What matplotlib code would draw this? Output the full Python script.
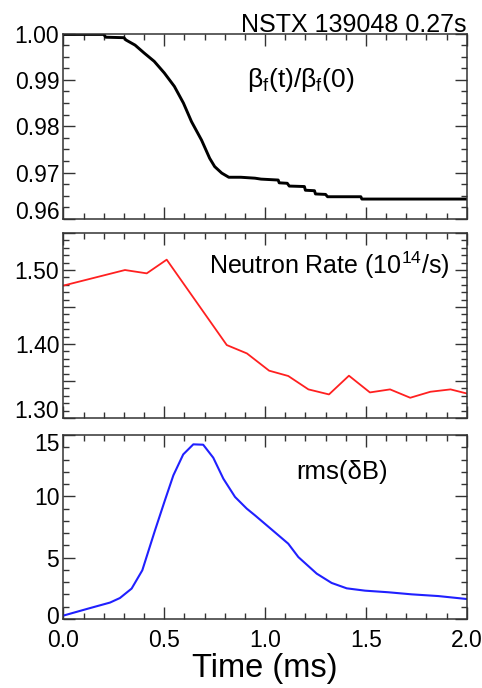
import matplotlib
matplotlib.use('Agg')
import matplotlib.pyplot as plt
from matplotlib.ticker import MultipleLocator, FuncFormatter
from matplotlib.transforms import ScaledTranslation

plt.rcParams['font.family'] = ['Liberation Sans', 'DejaVu Sans']
plt.rcParams['mathtext.fontset'] = 'custom'
plt.rcParams['mathtext.rm'] = 'Liberation Sans'
plt.rcParams['mathtext.it'] = 'Liberation Sans'

# beta_f(t)/beta_f(0)
beta_t = [0.0, 0.2, 0.21, 0.30, 0.31, 0.355, 0.40, 0.45, 0.50, 0.55, 0.595, 0.635,
          0.685, 0.725, 0.75, 0.785, 0.82, 0.88, 0.95, 0.98, 1.065, 1.07, 1.11, 1.12,
          1.195, 1.20, 1.245, 1.25, 1.30, 1.31, 1.475, 1.48, 2.0]
beta_v = [0.9998, 0.9998, 0.9992, 0.9991, 0.9986, 0.9975, 0.9958, 0.9940, 0.9915,
          0.9886, 0.9850, 0.9810, 0.9770, 0.9731, 0.9713, 0.9699, 0.9690, 0.9690,
          0.9688, 0.9686, 0.9684, 0.9678, 0.9677, 0.9671, 0.9670, 0.9662, 0.9661,
          0.9654, 0.9653, 0.9648, 0.9648, 0.9643, 0.9643]

# neutron rate (1e14/s)
neut_t = [0.0, 0.305, 0.413, 0.512, 0.81, 0.91, 1.02, 1.115, 1.215, 1.317, 1.416,
          1.52, 1.62, 1.72, 1.82, 1.92, 2.0]
neut_v = [1.479, 1.500, 1.4955, 1.514, 1.3986, 1.3873, 1.364, 1.3568, 1.3387, 1.3319,
          1.3572, 1.3346, 1.3387, 1.3274, 1.3355, 1.3387, 1.3332]

# rms(dB)
rms_t = [0.0, 0.123, 0.231, 0.280, 0.338, 0.391, 0.454, 0.503, 0.545, 0.594, 0.644,
         0.693, 0.743, 0.793, 0.851, 0.909, 0.95, 1.033, 1.115, 1.165, 1.256, 1.330,
         1.405, 1.496, 1.611, 1.727, 1.859, 2.0]
rms_v = [0.28, 0.85, 1.34, 1.71, 2.48, 3.97, 7.23, 9.67, 11.71, 13.42, 14.24, 14.21,
         13.15, 11.44, 9.95, 9.0, 8.45, 7.29, 6.14, 5.05, 3.70, 2.94, 2.50, 2.31, 2.18,
         2.01, 1.87, 1.63]

fig = plt.figure(figsize=(4.82, 6.88), dpi=100)
left, width = 0.1317, 0.8365
ax1 = fig.add_axes([left, 0.6817, width, 0.2696])
ax2 = fig.add_axes([left, 0.3924, width, 0.2689])
ax3 = fig.add_axes([left, 0.1003, width, 0.2674])

ax1.plot(beta_t, beta_v, color='black', lw=2.1)
ax2.plot(neut_t, neut_v, color='#ff2020', lw=1.3)
ax3.plot(rms_t, rms_v, color='#2020ff', lw=1.5)

ax1.set_ylim(0.96, 1.00)
ax1.yaxis.set_major_locator(MultipleLocator(0.01))
ax1.yaxis.set_minor_locator(MultipleLocator(0.0025))
ax1.yaxis.set_major_formatter(FuncFormatter(lambda v, p: '%.2f' % v))

ax2.set_ylim(1.30, 1.55)
ax2.yaxis.set_major_locator(MultipleLocator(0.05))
ax2.yaxis.set_minor_locator(MultipleLocator(0.01))
ax2.yaxis.set_major_formatter(FuncFormatter(
    lambda v, p: '%.2f' % v if round(v * 100) % 10 == 0 and v < 1.54 else ''))

ax3.set_ylim(0, 15)
ax3.yaxis.set_major_locator(MultipleLocator(5))
ax3.yaxis.set_minor_locator(MultipleLocator(1))

for ax in (ax1, ax2, ax3):
    ax.set_xlim(0, 2.0)
    ax.xaxis.set_major_locator(MultipleLocator(0.5))
    ax.xaxis.set_minor_locator(MultipleLocator(0.1))
    ax.tick_params(which='both', direction='in', top=True, right=True,
                   labelsize=16.5, color='#333333', width=1.0)
    ax.tick_params(which='major', length=8.5)
    ax.tick_params(which='minor', length=4.5)
    ax.tick_params(axis='y', pad=3)
    ax.tick_params(axis='x', pad=7)
    for s in ax.spines.values():
        s.set_color('#333333')
        s.set_linewidth(1.1)

ax1.tick_params(labelbottom=False)
ax2.tick_params(labelbottom=False)
ax3.xaxis.set_major_formatter(FuncFormatter(lambda v, p: '%.1f' % v))
ax3.set_xlabel('Time (ms)', fontsize=23.5, labelpad=1)

ax1.text(0.589, 0.749, r'$\mathrm{\beta_f(t)/\beta_f(0)}$', transform=ax1.transAxes,
         fontsize=19, ha='center', va='center')
ax2.text(0.958, 0.827, r'Neutron Rate (10$^{\mathrm{14}}$/s)', transform=ax2.transAxes,
         fontsize=18, ha='right', va='center')
ax3.text(0.691, 0.80, 'rms(δB)', transform=ax3.transAxes,
         fontsize=18.5, ha='center', va='center')
fig.text(0.968, 0.954, 'NSTX 139048 0.27s', fontsize=18, ha='right', va='baseline')


def shift(lbl, dy_px):
    lbl.set_transform(lbl.get_transform() +
                      ScaledTranslation(0, dy_px / 72, fig.dpi_scale_trans))


# keep the end labels inside their panel, as in the original
fig.canvas.draw()
for ax in (ax1, ax2, ax3):
    lo, hi = ax.get_ylim()
    for tk in ax.yaxis.get_major_ticks():
        loc = tk.get_loc()
        if abs(loc - lo) < 1e-6:
            if ax is ax3:
                shift(tk.label1, 3)
            else:
                tk.label1.set_va('baseline')
        elif abs(loc - hi) < 1e-6 and ax is ax3:
            shift(tk.label1, -5)

fig.savefig('out.png', dpi=100)
